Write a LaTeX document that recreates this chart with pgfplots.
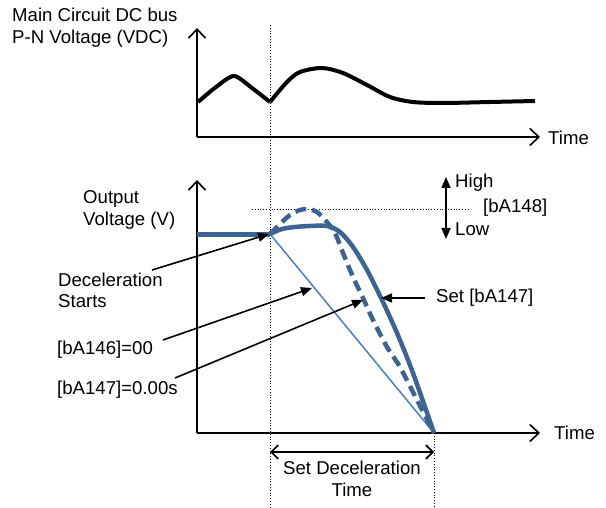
\documentclass[border=0pt]{standalone}
\usepackage{pgfplots}
\pgfplotsset{compat=1.18}
\usetikzlibrary{arrows.meta}
\usepackage{fontspec}
\setmainfont{Liberation Sans}
\definecolor{thickblue}{HTML}{3B6394}
\definecolor{thinblue}{HTML}{4A7EC0}
\begin{document}
\fontsize{18.6}{22}\selectfont
\begin{tikzpicture}[
  txt/.style={anchor=base west, inner sep=0pt, font=\fontsize{18.6}{22}\selectfont},
  axarrow/.style={line width=1.6pt, -{Straight Barb[length=9pt,width=17pt,line width=1.6pt]}},
  ann/.style={line width=1.6pt, -{Triangle[length=11pt,width=9pt]}}]
\begin{axis}[
  scale only axis, width=606pt, height=507pt,
  xmin=0, xmax=606, ymin=0, ymax=507, y dir=reverse,
  hide axis, clip=false]
\path (axis cs:0,0) rectangle (axis cs:606,507);
% dotted guide lines
\addplot[black, line width=0.8pt, dotted] coordinates {(270,25) (270,507)};
\addplot[black, line width=0.8pt, dotted] coordinates {(434,433) (434,507)};
\addplot[black, line width=0.8pt, dotted] coordinates {(252,209) (470,209)};
% top axes
\draw[axarrow] (axis cs:197,137) -- (axis cs:197,28);
\draw[axarrow] (axis cs:197,137) -- (axis cs:540,137);
% VDC curve
\addplot[black, line width=4pt, smooth, tension=0.45] coordinates {
 (198,102) (216,87) (234,76) (252,88) (270,102)};
\addplot[black, line width=4pt, smooth, tension=0.5] coordinates {
 (270,102) (287,82) (300,72) (322,68) (343,73) (367,85) (390,97) (413,102)
 (443,103) (490,102) (535,101)};
% bottom axes
\draw[axarrow] (axis cs:197,433) -- (axis cs:197,180);
\draw[axarrow] (axis cs:197,433) -- (axis cs:540,433);
% output voltage
\addplot[thickblue, line width=4.5pt] coordinates {(197,234.5) (270,234.5)};
\addplot[thinblue, line width=1.5pt] coordinates {(270,234) (434,433)};
\addplot[thickblue, line width=4.5pt, dash pattern=on 11pt off 6pt, smooth, tension=0.5] coordinates {
 (270,234) (280,224) (290,215) (300,210) (308,209) (317,212) (326,221) (335,233)
 (343,253) (353,277) (363,298) (373,320) (387,347) (400,367) (417,400) (434,433)};
\addplot[thickblue, line width=4.5pt, smooth, tension=0.5] coordinates {
 (270,234) (282,229) (295,227) (310,226) (327,226) (340,232) (353,247)
 (367,270) (382,300) (397,333) (413,373) (434,433)};
% annotation arrows
\draw[ann] (axis cs:152,270) -- (axis cs:269,234);
\draw[ann] (axis cs:163,340) -- (axis cs:312,288);
\draw[ann] (axis cs:175,378) -- (axis cs:363,300);
\draw[ann] (axis cs:425,298) -- (axis cs:381,298);
\draw[line width=1.6pt, {Triangle[length=11pt,width=9pt]}-{Triangle[length=11pt,width=9pt]}] (axis cs:446,177) -- (axis cs:446,239);
\draw[line width=1.6pt, {Straight Barb[length=7pt,width=14pt,line width=1.6pt]}-{Straight Barb[length=7pt,width=14pt,line width=1.6pt]}] (axis cs:270,452) -- (axis cs:434,452);
% texts
\node[txt] at (axis cs:12,22) {Main Circuit DC bus};
\node[txt] at (axis cs:12,44) {P-N Voltage (VDC)};
\node[txt] at (axis cs:548,145) {Time};
\node[txt] at (axis cs:83,204) {Output};
\node[txt] at (axis cs:83,226) {Voltage (V)};
\node[txt] at (axis cs:58,287) {Deceleration};
\node[txt] at (axis cs:58,308) {Starts};
\node[txt] at (axis cs:57,355) {[bA146]=00};
\node[txt] at (axis cs:57,395) {[bA147]=0.00s};
\node[txt] at (axis cs:436,303) {Set [bA147]};
\node[txt] at (axis cs:455,188) {High};
\node[txt] at (axis cs:483,213) {[bA148]};
\node[txt] at (axis cs:455,236) {Low};
\node[txt] at (axis cs:554,440) {Time};
\node[anchor=base, inner sep=0pt] at (axis cs:352,475) {Set Deceleration};
\node[anchor=base, inner sep=0pt] at (axis cs:352,497) {Time};
\end{axis}
\end{tikzpicture}
\end{document}
